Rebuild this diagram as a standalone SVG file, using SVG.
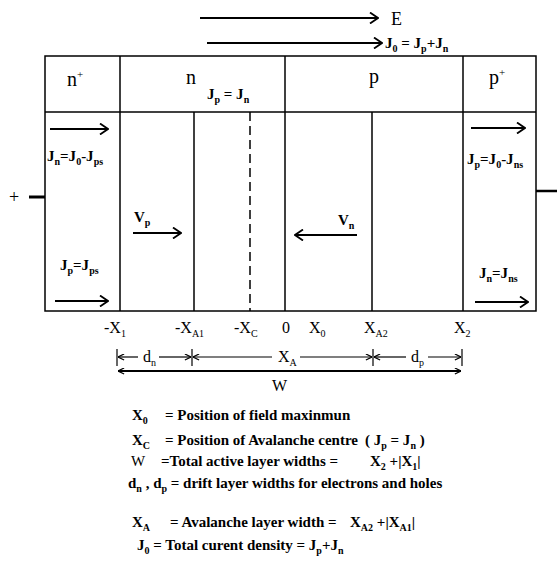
<svg xmlns="http://www.w3.org/2000/svg" width="557" height="561" viewBox="0 0 557 561">
<style>
  text { font-family: "Liberation Serif", "Times New Roman", serif; fill: #000; }
  .hd { font-size: 20px; }
  .f { font-size: 15px; font-weight: bold; }
  .lb { font-size: 16px; }
  .lg { font-size: 15px; font-weight: bold; }
  .s { font-size: 10px; }
  .ln { stroke: #000; stroke-width: 1.5; fill: none; }
  .ar { stroke: #000; stroke-width: 2; fill: none; marker-end: url(#ah); }
  .dim { stroke: #000; stroke-width: 1.2; fill: none; }
</style>
<defs>
  <marker id="ah" viewBox="0 0 10 12" refX="9" refY="6" markerWidth="10" markerHeight="12" markerUnits="userSpaceOnUse" orient="auto">
    <path d="M1,0.5 L9,6 L1,11.5" fill="none" stroke="#000" stroke-width="1.8"/>
  </marker>
  <marker id="sa" viewBox="0 0 8 8" refX="7.5" refY="4" markerWidth="7" markerHeight="7" markerUnits="userSpaceOnUse" orient="auto-start-reverse">
    <path d="M0.5,0.5 L7.5,4 L0.5,7.5" fill="none" stroke="#000" stroke-width="1.3"/>
  </marker>
</defs>
<rect width="557" height="561" fill="#fff"/>

<g id="top-arrows">
  <line class="ar" x1="200" y1="18" x2="378" y2="18"/>
  <text class="hd" x="391" y="25" style="font-size:18px">E</text>
  <line class="ar" x1="207" y1="43" x2="382" y2="43"/>
  <text class="f" x="385" y="48">J<tspan class="s" dy="4">0</tspan><tspan dy="-4"> = J</tspan><tspan class="s" dy="4">p</tspan><tspan dy="-4">+J</tspan><tspan class="s" dy="4">n</tspan></text>
</g>

<g id="device">
  <rect class="ln" x="45" y="56" width="491" height="255"/>
  <line class="ln" x1="45" y1="112" x2="536" y2="112"/>
  <line class="ln" x1="120" y1="56" x2="120" y2="311"/>
  <line class="ln" x1="285" y1="56" x2="285" y2="311"/>
  <line class="ln" x1="463" y1="56" x2="463" y2="311"/>
  <line class="ln" x1="194" y1="112" x2="194" y2="311"/>
  <line class="ln" x1="372" y1="112" x2="372" y2="311"/>
  <line class="ln" x1="250" y1="112" x2="250" y2="311" stroke-dasharray="9,5"/>
  <text class="hd" x="67" y="86">n<tspan font-size="11" dy="-8">+</tspan></text>
  <text class="hd" x="186" y="84">n</text>
  <text class="f" x="207" y="99">J<tspan class="s" dy="4">p</tspan><tspan dy="-4"> = J</tspan><tspan class="s" dy="4">n</tspan></text>
  <text class="hd" x="369" y="83">p</text>
  <text class="hd" x="489" y="84">p<tspan font-size="11" dy="-8">+</tspan></text>
</g>

<g id="leads">
  <line stroke="#000" stroke-width="3" x1="29" y1="197" x2="45" y2="197"/>
  <text class="lb" x="9" y="203" style="font-size:18px">+</text>
  <line stroke="#000" stroke-width="2.5" x1="536" y1="191" x2="557" y2="191"/>
</g>

<g id="currents">
  <line class="ar" x1="50" y1="129" x2="108" y2="129"/>
  <text class="f" x="47" y="161">J<tspan class="s" dy="4">n</tspan><tspan dy="-4">=J</tspan><tspan class="s" dy="4">0</tspan><tspan dy="-4">-J</tspan><tspan class="s" dy="4">ps</tspan></text>
  <text class="f" x="60" y="270">J<tspan class="s" dy="4">p</tspan><tspan dy="-4">=J</tspan><tspan class="s" dy="4">ps</tspan></text>
  <line class="ar" x1="55" y1="301" x2="108" y2="301"/>
  <text class="f" x="134" y="222">V<tspan class="s" dy="4">p</tspan></text>
  <line class="ar" x1="133" y1="233" x2="181" y2="233"/>
  <text class="f" x="338" y="225">V<tspan class="s" dy="4">n</tspan></text>
  <line class="ar" x1="357" y1="235" x2="295" y2="235"/>
  <line class="ar" x1="471" y1="128" x2="525" y2="128"/>
  <text class="f" x="467" y="164">J<tspan class="s" dy="4">p</tspan><tspan dy="-4">=J</tspan><tspan class="s" dy="4">0</tspan><tspan dy="-4">-J</tspan><tspan class="s" dy="4">ns</tspan></text>
  <text class="f" x="479" y="278">J<tspan class="s" dy="4">n</tspan><tspan dy="-4">=J</tspan><tspan class="s" dy="4">ns</tspan></text>
  <line class="ar" x1="475" y1="302" x2="528" y2="302"/>
</g>

<g id="positions">
  <text class="lb" x="104" y="333">-X<tspan class="s" dy="4">1</tspan></text>
  <text class="lb" x="175" y="333">-X<tspan class="s" dy="4">A1</tspan></text>
  <text class="lb" x="234" y="333">-X<tspan class="s" dy="4">C</tspan></text>
  <text class="lb" x="282" y="333">0</text>
  <text class="lb" x="309" y="333">X<tspan class="s" dy="4">0</tspan></text>
  <text class="lb" x="364" y="333">X<tspan class="s" dy="4">A2</tspan></text>
  <text class="lb" x="454" y="333">X<tspan class="s" dy="4">2</tspan></text>
</g>

<g id="dimensions">
  <line class="dim" x1="117" y1="349" x2="117" y2="366"/>
  <line class="dim" x1="192" y1="349" x2="192" y2="366"/>
  <line class="dim" x1="373" y1="349" x2="373" y2="366"/>
  <line class="dim" x1="462" y1="349" x2="462" y2="366"/>
  <line class="dim" x1="118" y1="357" x2="138" y2="357" marker-start="url(#sa)"/>
  <line class="dim" x1="159" y1="357" x2="191" y2="357" marker-end="url(#sa)"/>
  <text class="lb" x="143" y="362">d<tspan class="s" dy="4">n</tspan></text>
  <line class="dim" x1="193" y1="357" x2="272" y2="357" marker-start="url(#sa)"/>
  <line class="dim" x1="300" y1="357" x2="372" y2="357" marker-end="url(#sa)"/>
  <text class="lb" x="278" y="362">X<tspan class="s" dy="4">A</tspan></text>
  <line class="dim" x1="374" y1="357" x2="406" y2="357" marker-start="url(#sa)"/>
  <line class="dim" x1="428" y1="357" x2="461" y2="357" marker-end="url(#sa)"/>
  <text class="lb" x="411" y="362">d<tspan class="s" dy="4">p</tspan></text>
  <line stroke="#000" stroke-width="2" x1="118" y1="371" x2="461" y2="371" marker-start="url(#sa)" marker-end="url(#sa)"/>
  <text class="lb" x="272" y="391">W</text>
</g>

<g id="legend">
  <text class="lg" x="132" y="420">X<tspan class="s" dy="4">0</tspan></text>
  <text class="lg" x="165" y="420">= Position of field maxinmun</text>
  <text class="lg" x="132" y="445">X<tspan class="s" dy="4">C</tspan></text>
  <text class="lg" x="165" y="445">= Position of Avalanche centre</text>
  <text class="lg" x="365" y="445">( J<tspan class="s" dy="4">p</tspan><tspan dy="-4"> = J</tspan><tspan class="s" dy="4">n</tspan><tspan dy="-4"> )</tspan></text>
  <text class="lg" x="131" y="466" style="font-weight:normal">W</text>
  <text class="lg" x="161" y="466">=Total active layer widths =</text>
  <text class="lg" x="370" y="466">X<tspan class="s" dy="4">2</tspan><tspan dy="-4"> +|X</tspan><tspan class="s" dy="4">1</tspan><tspan dy="-4">|</tspan></text>
  <text class="lg" x="128" y="488">d<tspan class="s" dy="4">n</tspan><tspan dy="-4"> , d</tspan><tspan class="s" dy="4">p</tspan><tspan dy="-4"> = drift layer widths for electrons and holes</tspan></text>
  <text class="lg" x="132" y="527">X<tspan class="s" dy="4">A</tspan></text>
  <text class="lg" x="170" y="527">= Avalanche layer width =</text>
  <text class="lg" x="350" y="527">X<tspan class="s" dy="4">A2</tspan><tspan dy="-4"> +|X</tspan><tspan class="s" dy="4">A1</tspan><tspan dy="-4">|</tspan></text>
  <text class="lg" x="137" y="550">J<tspan class="s" dy="4">0</tspan><tspan dy="-4"> = Total curent density =  J</tspan><tspan class="s" dy="4">p</tspan><tspan dy="-4">+J</tspan><tspan class="s" dy="4">n</tspan></text>
</g>
</svg>
